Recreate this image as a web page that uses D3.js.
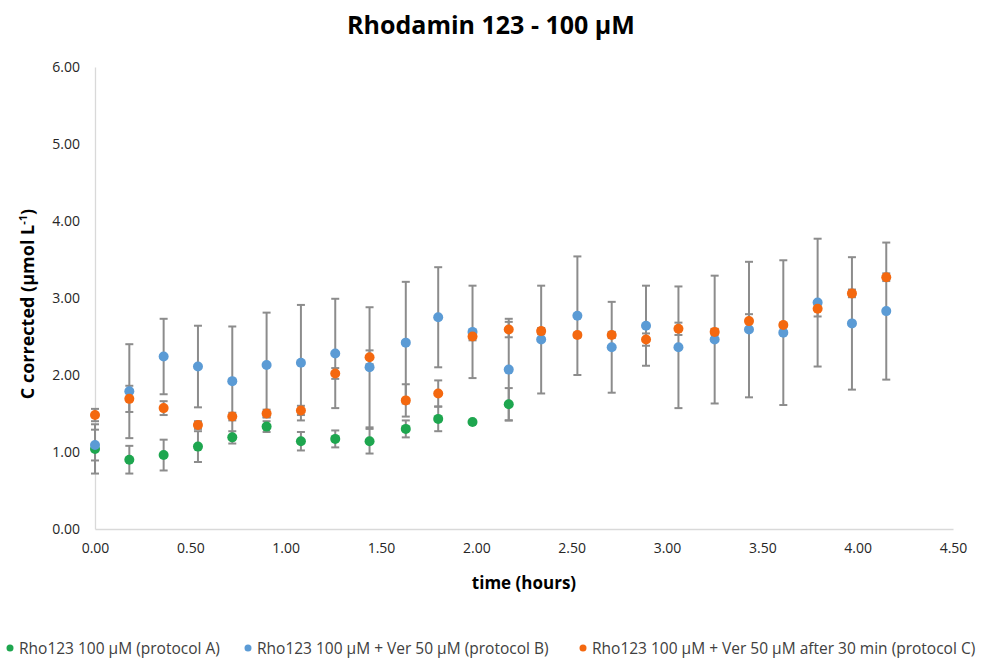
<!DOCTYPE html>
<html>
<head>
<meta charset="utf-8">
<script src="https://cdn.jsdelivr.net/npm/d3@7"></script>
<style>
  body { margin: 0; background: #fff; }
  svg { display: block; font-family: "Open Sans", sans-serif; }
</style>
</head>
<body>
<svg id="chart"></svg>
<script>
// time points (hours)
const times = [0.00, 0.18, 0.36, 0.54, 0.72, 0.90, 1.08, 1.26, 1.44, 1.63, 1.80, 1.98,
               2.17, 2.34, 2.53, 2.71, 2.89, 3.06, 3.25, 3.43, 3.61, 3.79, 3.97, 4.15];

// protocol A (Rho123 alone) - only first 13 time points
const protocolA = [1.04, 0.90, 0.96, 1.07, 1.19, 1.33, 1.14, 1.17, 1.14, 1.30, 1.43, 1.39, 1.62];
const errA      = [0.32, 0.18, 0.20, 0.20, 0.08, 0.07, 0.12, 0.11, 0.16, 0.11, 0.16, 0.00, 0.21];

// protocol B (+ Ver 50 uM)
const protocolB = [1.09, 1.79, 2.24, 2.11, 1.92, 2.13, 2.16, 2.28, 2.10, 2.42, 2.75, 2.56,
                   2.07, 2.46, 2.77, 2.36, 2.64, 2.36, 2.46, 2.59, 2.55, 2.94, 2.67, 2.83];
const errB      = [0.20, 0.61, 0.49, 0.53, 0.71, 0.68, 0.75, 0.71, 0.78, 0.79, 0.65, 0.60,
                   0.66, 0.70, 0.77, 0.59, 0.52, 0.79, 0.83, 0.88, 0.94, 0.83, 0.86, 0.89];

// protocol C (+ Ver 50 uM after 30 min)
const protocolC = [1.48, 1.69, 1.57, 1.35, 1.46, 1.50, 1.54, 2.02, 2.23, 1.67, 1.76, 2.50,
                   2.59, 2.57, 2.52, 2.52, 2.46, 2.60, 2.56, 2.70, 2.65, 2.86, 3.06, 3.27];
const errC      = [0.08, 0.17, 0.09, 0.05, 0.05, 0.05, 0.06, 0.07, 0.09, 0.21, 0.17, 0.05,
                   0.10, 0.04, 0.03, 0.04, 0.08, 0.08, 0.04, 0.09, 0.03, 0.10, 0.05, 0.05];

const xTicks = [0, 0.5, 1, 1.5, 2, 2.5, 3, 3.5, 4, 4.5];
const yTicks = [0, 1, 2, 3, 4, 5, 6];

const seriesNames = ["Rho123 100 µM (protocol A)",
                     "Rho123 100 µM + Ver 50 µM (protocol B)",
                     "Rho123 100 µM + Ver 50 µM after 30 min (protocol C)"];
const colors = ["#1ea64f", "#5b9bd5", "#f4680f"];

function drawChart() {
    const width = 982, height = 660;
    const margin = { top: 67, right: 29, bottom: 131, left: 95 };
    const innerWidth = width - margin.left - margin.right;
    const innerHeight = height - margin.top - margin.bottom;

    const svg = d3.select("#chart")
        .attr("width", width)
        .attr("height", height);

    svg.append("rect").attr("width", width).attr("height", height).attr("fill", "#fff");

    const g = svg.append("g")
        .attr("transform", `translate(${margin.left},${margin.top})`);

    const x = d3.scaleLinear().domain([0, 4.5]).range([0, innerWidth]);
    const y = d3.scaleLinear().domain([0, 6]).range([innerHeight, 0]);

    // axes
    const xAxis = g.append("g")
        .attr("transform", `translate(0,${innerHeight})`)
        .call(d3.axisBottom(x).tickValues(xTicks).tickFormat(d3.format(".2f")).tickSize(0).tickPadding(14));
    const yAxis = g.append("g")
        .call(d3.axisLeft(y).tickValues(yTicks).tickFormat(d3.format(".2f")).tickSize(0).tickPadding(15));

    [xAxis, yAxis].forEach(a => {
        a.select(".domain").attr("stroke", "#d9d9d9").attr("stroke-width", 1.3);
        a.selectAll("text").attr("fill", "#262626").attr("font-size", 14)
            .attr("font-family", "Open Sans, sans-serif");
    });

    const series = [
        { values: protocolA, err: errA },
        { values: protocolB, err: errB },
        { values: protocolC, err: errC }
    ].map((s, i) => ({
        name: seriesNames[i],
        color: colors[i],
        points: s.values.map((v, j) => ({ t: times[j], v: v, e: s.err[j] }))
    }));

    // error bars
    const bars = g.append("g").attr("stroke", "#8c8c8c").attr("stroke-width", 2).attr("fill", "none");
    series.forEach(s => {
        const eb = bars.selectAll(null).data(s.points.filter(d => d.e > 0)).join("g");
        eb.append("line")
            .attr("x1", d => x(d.t)).attr("x2", d => x(d.t))
            .attr("y1", d => y(d.v + d.e)).attr("y2", d => y(d.v - d.e));
        eb.append("line")
            .attr("x1", d => x(d.t) - 4).attr("x2", d => x(d.t) + 4)
            .attr("y1", d => y(d.v + d.e)).attr("y2", d => y(d.v + d.e));
        eb.append("line")
            .attr("x1", d => x(d.t) - 4).attr("x2", d => x(d.t) + 4)
            .attr("y1", d => y(d.v - d.e)).attr("y2", d => y(d.v - d.e));
    });

    // markers
    series.forEach(s => {
        g.append("g").selectAll("circle")
            .data(s.points)
            .join("circle")
            .attr("cx", d => x(d.t))
            .attr("cy", d => y(d.v))
            .attr("r", 5)
            .attr("fill", s.color);
    });

    // title
    svg.append("text")
        .attr("x", width / 2)
        .attr("y", 34)
        .attr("text-anchor", "middle")
        .attr("font-size", 25)
        .attr("font-weight", "bold")
        .attr("fill", "#000")
        .text("Rhodamin 123 - 100 µM");

    // x axis label
    svg.append("text")
        .attr("x", margin.left + innerWidth / 2)
        .attr("y", 589)
        .attr("text-anchor", "middle")
        .attr("font-size", 17)
        .attr("font-weight", "bold")
        .attr("fill", "#000")
        .text("time (hours)");

    // y axis label
    const yl = svg.append("text")
        .attr("transform", `translate(34,${margin.top + innerHeight / 2 + 6}) rotate(-90)`)
        .attr("text-anchor", "middle")
        .attr("font-size", 18)
        .attr("font-weight", "bold")
        .attr("fill", "#000");
    yl.append("tspan").text("C corrected (µmol L");
    yl.append("tspan").attr("font-size", 11).attr("dy", -7).text("-1");
    yl.append("tspan").attr("dy", 7).text(")");

    // legend
    const legendX = [10, 248, 583];
    const legend = svg.append("g");
    series.forEach((s, i) => {
        const item = legend.append("g").attr("transform", `translate(${legendX[i]},648)`);
        item.append("circle").attr("r", 3.5).attr("fill", s.color);
        item.append("text")
            .attr("x", 9)
            .attr("y", 5.5)
            .attr("font-size", 15.5)
            .attr("fill", "#404040")
            .text(s.name);
    });
}

drawChart();
</script>
</body>
</html>
